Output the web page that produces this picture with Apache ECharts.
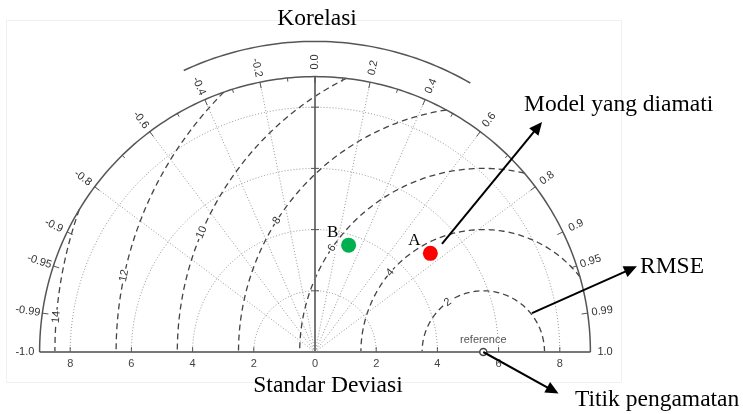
<!DOCTYPE html>
<html>
<head>
<meta charset="utf-8">
<script src="https://cdn.jsdelivr.net/npm/echarts@6/dist/echarts.min.js"></script>
<style>
  html, body { margin: 0; padding: 0; background: #fff; }
  #chart { width: 743px; height: 414px; }
</style>
</head>
<body>
<div id="chart"></div>
<script>
// Taylor diagram values
const stdLevels = [2, 4, 6, 8];
const stdMax = 9;
const stdTickLabels = [-8, -6, -4, -2, 0, 2, 4, 6, 8];
const corrLabelValues = [-1, -0.99, -0.95, -0.9, -0.8, -0.6, -0.4, -0.2, 0, 0.2, 0.4, 0.6, 0.8, 0.9, 0.95, 0.99, 1];
const corrLabelText = ['-1.0', '-0.99', '-0.95', '-0.9', '-0.8', '-0.6', '-0.4', '-0.2', '0.0', '0.2', '0.4', '0.6', '0.8', '0.9', '0.95', '0.99', '1.0'];
const corrSpokes = [-0.8, -0.6, -0.4, -0.2, 0.2, 0.4, 0.6, 0.8];
const corrMinorTicks = [-0.7, -0.5, -0.3, -0.1, 0.1, 0.3, 0.5, 0.7];
const refStd = 5.5;
const rmseLevels = [2, 4, 6, 8, 10, 12, 14];
const modelNames = ['A', 'B'];
const modelStd = [4.96, 3.66];
const modelCorr = [0.76, 0.30];

// layout (angles in degrees around the reference point where RMSE labels sit)
const rmseLabelAngles = [125.5, 139.5, 145.5, 147.5, 157, 168, 175.3];
const modelColors = ['#ff0000', '#00b050'];
const serif = '"Liberation Serif", "Times New Roman", serif';
const sans = '"Liberation Sans", Arial, sans-serif';

const deg = Math.PI / 180;
const polar = (r, a) => [r * Math.cos(a), r * Math.sin(a)];

function arc(cx, r, a0, a1, step) {
  const pts = [];
  const n = Math.max(2, Math.ceil(Math.abs(a1 - a0) / (step || 1)));
  for (let i = 0; i <= n; i++) {
    const a = (a0 + (a1 - a0) * i / n) * deg;
    pts.push([cx + r * Math.cos(a), r * Math.sin(a)]);
  }
  return pts;
}

// polylines in data units
const outerCircle = [arc(0, stdMax, 0, 180)];
const stdArcs = stdLevels.map(s => arc(0, s, 0, 180));
const spokes = corrSpokes.map(c => [[0, 0], polar(stdMax, Math.acos(c))]);
const centerLine = [[[0, 0], [0, stdMax]]];
const rmseArcs = rmseLevels.map(r => {
  let k = (stdMax * stdMax - refStd * refStd - r * r) / (2 * refStd * r);
  k = Math.max(-1, Math.min(1, k));
  return arc(refStd, r, Math.acos(k) / deg, 180);
});
const corrTicks = corrLabelValues.filter(c => Math.abs(c) < 1).map(c => {
  const a = Math.acos(c);
  return [polar(stdMax, a), polar(stdMax - 0.2, a)];
}).concat(corrMinorTicks.map(c => {
  const a = Math.acos(c);
  return [polar(stdMax, a), polar(stdMax - 0.12, a)];
}));
const axisTicks = stdLevels.map(s => [[-0.13, s], [0.13, s]])
  .concat(stdLevels.map(s => [[s, 0], [s, 0.16]]))
  .concat(stdLevels.map(s => [[-s, 0], [-s, 0.16]]));
const corrTitleArc = [arc(0, 10.15, 60, 115)];

// annotation arrows, [start, tip] in data units
const arrows = [
  [[4.15, 3.53], [7.42, 7.52]],
  [[7.09, 1.27], [10.52, 2.80]],
  [[refStd, 0], [7.96, -1.36]]
];

function lineSeries(lines, style, z) {
  return {
    type: 'custom', coordinateSystem: 'cartesian2d', clip: false, silent: true, z: z,
    data: lines.map(l => l[0]),
    renderItem: (params, api) => ({
      type: 'polyline',
      shape: { points: lines[params.dataIndex].map(p => api.coord(p)) },
      style: Object.assign({ fill: null }, style)
    })
  };
}

// text labels around the outer arc
const corrLabelData = corrLabelValues.map((c, i) => {
  const a = Math.acos(c);
  const p = polar(9.48, a);
  return { value: p, text: corrLabelText[i], rot: c >= 0 ? a : a - Math.PI };
});

const rmseLabelData = rmseLevels.map((r, i) => {
  const a = rmseLabelAngles[i] * deg;
  return { value: [refStd + r * Math.cos(a), r * Math.sin(a)], text: String(r), rot: a - Math.PI / 2 };
});

function textSeries(items, font, color, bg, z) {
  return {
    type: 'custom', coordinateSystem: 'cartesian2d', clip: false, silent: true, z: z,
    data: items.map(d => d.value),
    renderItem: (params, api) => {
      const d = items[params.dataIndex];
      const p = api.coord(d.value);
      return {
        type: 'text', x: p[0], y: p[1], rotation: d.rot || 0,
        style: Object.assign({
          text: d.text, fill: color, font: font, align: 'center', verticalAlign: 'middle'
        }, bg ? { backgroundColor: '#fff', padding: [0, 1] } : {})
      };
    }
  };
}

const modelPoints = modelNames.map((n, i) => {
  const a = Math.acos(modelCorr[i]);
  return polar(modelStd[i], a);
});

const chart = echarts.init(document.getElementById('chart'), null, { renderer: 'canvas' });
chart.setOption({
  animation: false,
  backgroundColor: '#fff',
  grid: { left: 39.6, top: 76.6, width: 550.8, height: 275.4 },
  xAxis: {
    type: 'value', min: -stdMax, max: stdMax,
    axisLine: { show: false },
    axisTick: { show: false },
    splitLine: { show: false },
    axisLabel: {
      customValues: stdTickLabels,
      formatter: v => String(Math.abs(v)),
      color: '#444', fontSize: 11, fontFamily: sans, margin: 6
    }
  },
  yAxis: { type: 'value', min: 0, max: stdMax, show: false },
  graphic: [
    { type: 'rect', shape: { x: 6.5, y: 20.5, width: 615, height: 362 }, style: { fill: null, stroke: '#f0f0f0', lineWidth: 1 }, z: 0 },
    { type: 'text', x: 317, y: 19, style: { text: 'Korelasi', font: '23.5px ' + serif, fill: '#000', align: 'center', verticalAlign: 'middle' } },
    { type: 'text', x: 328, y: 386, style: { text: 'Standar Deviasi', font: '23.5px ' + serif, fill: '#000', align: 'center', verticalAlign: 'middle' } },
    { type: 'text', x: 524, y: 105, style: { text: 'Model yang diamati', font: '23.5px ' + serif, fill: '#000', align: 'left', verticalAlign: 'middle' } },
    { type: 'text', x: 640, y: 267, style: { text: 'RMSE', font: '23.5px ' + serif, fill: '#000', align: 'left', verticalAlign: 'middle' } },
    { type: 'text', x: 575, y: 400, style: { text: 'Titik pengamatan', font: '23.5px ' + serif, fill: '#000', align: 'left', verticalAlign: 'middle' } }
  ],
  series: [
    lineSeries(stdArcs, { stroke: '#999', lineWidth: 1, lineDash: [1, 2] }, 1),
    lineSeries(spokes, { stroke: '#999', lineWidth: 1, lineDash: [1, 2] }, 1),
    lineSeries(rmseArcs, { stroke: '#444', lineWidth: 1.3, lineDash: [6, 4] }, 2),
    textSeries(rmseLabelData, '11px ' + sans, '#333', true, 3),
    lineSeries(centerLine, { stroke: '#777', lineWidth: 2 }, 3),
    lineSeries([[[-stdMax, 0], [stdMax, 0]]], { stroke: '#777', lineWidth: 2 }, 3),
    lineSeries(outerCircle, { stroke: '#555', lineWidth: 1.5 }, 3),
    lineSeries(axisTicks, { stroke: '#555', lineWidth: 1 }, 3),
    lineSeries(corrTicks, { stroke: '#555', lineWidth: 1 }, 3),
    lineSeries(corrTitleArc, { stroke: '#555', lineWidth: 1.5 }, 3),
    textSeries(corrLabelData, '11px ' + sans, '#333', false, 3),
    // reference point
    {
      type: 'custom', coordinateSystem: 'cartesian2d', clip: false, silent: true, z: 5,
      data: [[refStd, 0]],
      renderItem: (params, api) => {
        const p = api.coord([refStd, 0]);
        return {
          type: 'group', children: [
            { type: 'circle', shape: { cx: p[0], cy: p[1], r: 3.5 }, style: { fill: '#fff', stroke: '#444', lineWidth: 1.5 } },
            { type: 'text', x: p[0], y: p[1] - 12.5, style: { text: 'reference', font: '11px ' + sans, fill: '#555', align: 'center', verticalAlign: 'middle' } }
          ]
        };
      }
    },
    // models
    {
      type: 'custom', coordinateSystem: 'cartesian2d', clip: false, silent: true, z: 6,
      data: modelPoints,
      renderItem: (params, api) => {
        const i = params.dataIndex;
        const p = api.coord(modelPoints[i]);
        return {
          type: 'group', children: [
            { type: 'circle', shape: { cx: p[0], cy: p[1], r: 7.5 }, style: { fill: modelColors[i] } },
            { type: 'text', x: p[0] - 16, y: p[1] - 12.5, style: { text: modelNames[i], font: '17px ' + serif, fill: '#000', align: 'center', verticalAlign: 'middle' } }
          ]
        };
      }
    },
    // annotation arrows
    {
      type: 'custom', coordinateSystem: 'cartesian2d', clip: false, silent: true, z: 7,
      data: arrows.map(a => a[0]),
      renderItem: (params, api) => {
        const a = arrows[params.dataIndex];
        const s = api.coord(a[0]);
        const t = api.coord(a[1]);
        const dx = t[0] - s[0], dy = t[1] - s[1];
        const len = Math.hypot(dx, dy);
        const ux = dx / len, uy = dy / len;
        const hl = 13, hw = 6;
        const bx = t[0] - ux * hl, by = t[1] - uy * hl;
        return {
          type: 'group', children: [
            { type: 'line', shape: { x1: s[0], y1: s[1], x2: bx + ux * 2, y2: by + uy * 2 }, style: { stroke: '#000', lineWidth: 2 } },
            { type: 'polygon', shape: { points: [t, [bx - uy * hw, by + ux * hw], [bx + uy * hw, by - ux * hw]] }, style: { fill: '#000' } }
          ]
        };
      }
    }
  ]
});
</script>
</body>
</html>
